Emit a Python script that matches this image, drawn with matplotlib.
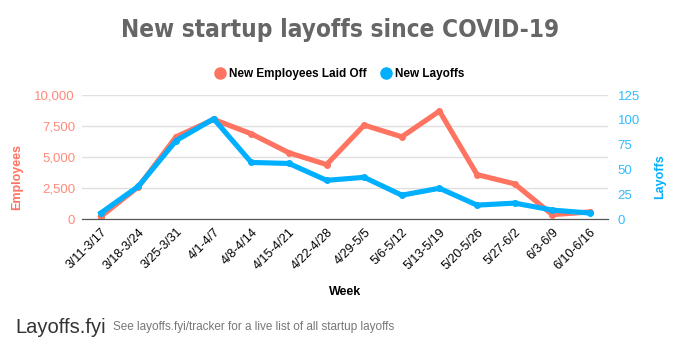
import numpy as np
import matplotlib.pyplot as plt

# Data
weeks = ["3/11-3/17", "3/18-3/24", "3/25-3/31", "4/1-4/7", "4/8-4/14", "4/15-4/21",
         "4/22-4/28", "4/29-5/5", "5/6-5/12", "5/13-5/19", "5/20-5/26", "5/27-6/2",
         "6/3-6/9", "6/10-6/16"]
employees = [200, 2600, 6630, 8030, 6870, 5340, 4390, 7570, 6630, 8700, 3580, 2830, 350, 570]
layoffs = [6, 33, 79, 101, 57, 56, 39, 42, 24, 31, 14, 16, 9, 6]
emp_ticks = [0, 2500, 5000, 7500, 10000]
lay_ticks = [0, 25, 50, 75, 100, 125]

red = "#ff7361"
blue = "#00b0ff"

plt.rcParams['font.family'] = ['Liberation Sans', 'DejaVu Sans']

fig = plt.figure(figsize=(6.8, 3.57), dpi=100)
ax = fig.add_axes([82 / 680, 1 - 219 / 357, 526 / 680, 124 / 357])
ax2 = ax.twinx()

x = np.arange(len(weeks))
l1, = ax.plot(x, employees, color=red, lw=3.7, marker="o", ms=4, label="New Employees Laid Off", zorder=3)
l2, = ax2.plot(x, layoffs, color=blue, lw=3.7, marker="o", ms=4, label="New Layoffs", zorder=4)

ax.set_xlim(-0.5, len(weeks) - 1 + 0.48)
ax.set_ylim(0, 10000)
ax2.set_ylim(0, 125)
ax.set_yticks(emp_ticks)
ax.set_yticklabels([f"{v:,}" for v in emp_ticks])
ax2.set_yticks(lay_ticks)

ax.set_xticks(x)
ax.set_xticklabels(weeks, rotation=45, ha="right", rotation_mode="anchor", fontsize=9)

ax.grid(axis="y", color="#e0e0e0", lw=1)
ax.set_axisbelow(True)
for a in (ax, ax2):
    for s in ["top", "left", "right"]:
        a.spines[s].set_visible(False)
    a.spines["bottom"].set_color("#555555")
ax.tick_params(axis="y", length=0, colors="#ff8a7a", labelsize=9.5, pad=5)
ax2.tick_params(axis="y", length=0, colors="#33bbff", labelsize=9.5, pad=7)
ax.tick_params(axis="x", length=0, pad=5)

ax.set_ylabel("Employees", color=red, fontweight="bold", fontsize=9)
ax2.set_ylabel("Layoffs", color=blue, fontweight="bold", fontsize=9)
ax.yaxis.set_label_coords(-0.112, 0.34)
ax2.yaxis.set_label_coords(1.087, 0.34)
ax.set_xlabel("Week", fontweight="bold", fontsize=9, labelpad=10)

fig.text(0.5, 0.915, "New startup layoffs since COVID-19", ha="center", va="center",
         fontsize=17.5, fontweight="bold", color="#666666", fontstretch="condensed",
         family=["DejaVu Sans"])

fig.legend(handles=[l1, l2], loc="center", bbox_to_anchor=(0.5, 0.793), ncol=2,
           frameon=False, prop={"weight": "bold", "size": 8.5},
           handlelength=0.8, handletextpad=0.4, columnspacing=1.2)
for h in fig.legends[0].legend_handles:
    h.set_linestyle("none")
    h.set_markersize(8)

fig.text(0.022, 0.083, "Layoffs.fyi", fontsize=14.5, color="#333333", va="center")
fig.text(0.166, 0.083, "See layoffs.fyi/tracker for a live list of all startup layoffs",
         fontsize=8.5, color="#777777", va="center")

fig.savefig("out.png", dpi=100)
